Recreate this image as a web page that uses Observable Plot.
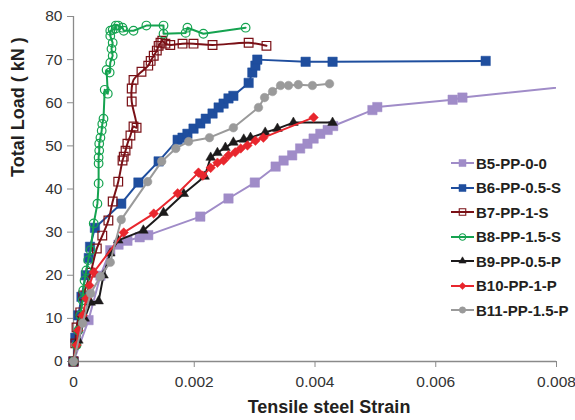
<!DOCTYPE html>
<html><head><meta charset="utf-8">
<script src="https://cdn.jsdelivr.net/npm/d3@7"></script>
<script src="https://cdn.jsdelivr.net/npm/@observablehq/plot@0.6"></script>
<style>
body{margin:0;background:#fff;}
#wrap{position:relative;width:575px;height:420px;font-family:"Liberation Sans",Arial,sans-serif;}
#legend{position:absolute;left:451px;top:151px;}
.item{height:24.5px;display:flex;align-items:center;font-weight:bold;font-size:15px;color:#231f20;white-space:nowrap;}
.item svg{margin-right:2px;}
</style></head><body><div id="wrap"><div id="legend"></div></div>
<script>
// ---- data (strain, load in kN) ----
const b5Strain = [0,0.000249,0.000446,0.000609,0.000746,0.000893,0.001096,0.001238,0.0021,0.002567,0.003003,0.003348,0.00348,0.003622,0.003754,0.003875,0.003977,0.004088,0.00421,0.004301,0.004951,0.005032,0.00628,0.006442,0.0095];
const b5Load   = [0,9.6,19.9,25.8,27.1,28.0,28.8,29.3,33.6,37.8,41.5,45.2,46.6,47.8,49.4,50.5,51.7,52.8,53.7,54.6,58.3,59.0,60.7,61.2,65.7];

const b6Strain = [0,0.00003,0.00008,0.000132,0.000203,0.000254,0.000274,0.000355,0.000791,0.001075,0.00141,0.001725,0.001806,0.001887,0.001988,0.0021,0.002191,0.002303,0.002404,0.002486,0.002567,0.002648,0.002901,0.002962,0.003013,0.003044,0.003845,0.004291,0.006827];
const b6Load   = [0,5.5,10.7,15,20,24,26.6,31,36.6,41.5,46.4,51.4,51.9,52.8,54.0,55.2,56.3,57.5,58.9,59.8,61.0,61.6,64.6,67.0,68.6,70.0,69.5,69.5,69.7];

const b7Strain = [0,0.00003,0.00005,0.000112,0.000162,0.000284,0.000386,0.000477,0.000578,0.000649,0.000741,0.000812,0.000832,0.000862,0.000893,0.000943,0.000994,0.001045,0.000964,0.000964,0.000994,0.001126,0.001238,0.001278,0.001329,0.00138,0.00141,0.001441,0.001471,0.001522,0.001603,0.001806,0.001988,0.002303,0.002901,0.003196];
const b7Load   = [0,4.2,7.9,11.4,15.3,20.6,26.2,29.2,32.7,37.1,41.7,46.6,47.5,48.9,50.5,52.4,54.5,54.2,60.3,63.3,65.3,67.2,68.6,69.7,70.9,72.1,73.2,73.9,74.4,73.7,73.4,73.7,73.7,73.4,73.9,73.2];

const b8Strain = [0,0.00005,0.00008,0.000112,0.000152,0.000162,0.000183,0.000213,0.000243,0.000284,0.000335,0.000396,0.000416,0.000416,0.000416,0.000426,0.000426,0.000446,0.000467,0.000477,0.000497,0.000517,0.000568,0.000548,0.000599,0.000609,0.000649,0.000629,0.000649,0.000609,0.000609,0.000649,0.0007,0.0007,0.000741,0.000812,0.000832,0.000994,0.001207,0.001491,0.001491,0.001857,0.001887,0.002151,0.002851];
const b8Load   = [0,3.8,7.2,10.7,14.2,16.5,18.8,21.1,23.5,25.8,32.0,36.6,41.3,45.9,47.3,48.9,50.5,51.9,53.5,55.1,56.3,63.0,62.1,67.6,67.0,69.3,70.9,72.5,73.9,75.5,76.7,76.9,77.2,77.9,77.9,77.4,76.7,76.7,77.9,77.9,76.0,76.2,77.4,76.0,77.4];

const b9Strain = [0,0.00008,0.000183,0.000284,0.000416,0.000497,0.000609,0.000741,0.001157,0.001491,0.001826,0.002171,0.002272,0.002384,0.002516,0.002648,0.00282,0.002932,0.003175,0.003378,0.003642,0.004291];
const b9Load   = [0,4.9,10.0,13.7,14.0,20.0,25.1,28.1,30.4,34.5,38.9,42.9,47.3,48.4,49.6,50.8,51.5,51.9,53.1,54.0,55.4,55.4];

const b10Strain = [0,0.00005,0.00008,0.000152,0.000213,0.000264,0.000335,0.000832,0.001329,0.001725,0.00207,0.002141,0.002272,0.002384,0.002486,0.002567,0.002678,0.00277,0.002881,0.003013,0.003145,0.003977];
const b10Load   = [0,3.8,7.2,10.7,14.6,17.6,20.7,29.9,34.3,39.0,43.8,43.1,44.9,46.1,46.6,47.8,48.5,49.4,50.1,51.2,51.9,56.6];

const b11Strain = [0,0.000152,0.000284,0.000446,0.000609,0.000791,0.001228,0.001461,0.001694,0.001907,0.002252,0.002648,0.003064,0.003165,0.003297,0.003429,0.003561,0.003723,0.003957,0.004241];
const b11Load   = [0,8.9,15.8,19.7,23.0,32.9,41.7,46.4,49.4,51.0,51.9,54.2,58.9,61.2,62.6,64.0,64.0,64.2,64.0,64.4];

const seriesNames = ["B5-PP-0-0","B6-PP-0.5-S","B7-PP-1-S","B8-PP-1.5-S","B9-PP-0.5-P","B10-PP-1-P","B11-PP-1.5-P"];
const xTicks = [0,0.002,0.004,0.006,0.008];
const yTicks = [0,10,20,30,40,50,60,70,80];

// ---- styles ----
const styles = [
  {strain:b5Strain, load:b5Load, color:"#a08cc8", symbol:"square", r:5.3, fill:true, curve:"linear"},
  {strain:b6Strain, load:b6Load, color:"#1f4e9e", symbol:"square", r:5.3, fill:true, curve:"linear"},
  {strain:b7Strain, load:b7Load, color:"#7a1016", symbol:"square", r:4.9, fill:false, curve:"catmull-rom"},
  {strain:b8Strain, load:b8Load, color:"#15a350", symbol:"circle", r:4.3, fill:false, curve:"linear"},
  {strain:b9Strain, load:b9Load, color:"#1c1a1b", symbol:"triangle", r:3.6, fill:true, curve:"linear"},
  {strain:b10Strain, load:b10Load, color:"#e8262d", symbol:"diamond2", r:4.3, fill:true, curve:"linear"},
  {strain:b11Strain, load:b11Load, color:"#9a9a9a", symbol:"circle", r:4.3, fill:true, curve:"linear"}
];

const marks = [
  Plot.ruleY([0], {stroke:"#8a8a8a", strokeWidth:1.3}),
  Plot.ruleX([0], {stroke:"#8a8a8a", strokeWidth:1.3}),
  Plot.axisY({ticks:yTicks, tickSize:6, tickPadding:5, label:null, fontSize:15.5, stroke:"#8a8a8a", fill:"#333"}),
  Plot.axisX({ticks:xTicks, tickSize:6, tickPadding:8, label:null, fontSize:15.5, stroke:"#8a8a8a", fill:"#333",
    tickFormat: d => d === 0 ? "0" : d.toFixed(3)}),
  Plot.text(["Total Load ( kN )"], {frameAnchor:"left", dx:-55, dy:-12, rotate:-90, fontSize:18, fontWeight:"bold", fill:"#231f20"}),
  Plot.text(["Tensile steel Strain"], {frameAnchor:"bottom", dx:14, dy:51, fontSize:18, fontWeight:"bold", fill:"#231f20"})
];

styles.forEach((s, i) => {
  const data = s.strain.map((x, j) => ({x, y: s.load[j], name: seriesNames[i]}));
  marks.push(Plot.line(data, {x:"x", y:"y", stroke:s.color, strokeWidth:2, curve:s.curve, clip:true}));
  marks.push(Plot.dot(data.filter(d => d.x <= 0.008), {x:"x", y:"y", symbol:()=>s.symbol, r:s.r,
    fill: s.fill ? s.color : "none", stroke:s.color, strokeWidth: s.fill ? 0.5 : 1.2}));
});

const chart = Plot.plot({
  width:575, height:420,
  marginLeft:73, marginRight:19, marginTop:16, marginBottom:59,
  x:{domain:[0,0.008]},
  y:{domain:[0,80]},
  symbol:{type:"identity"},
  style:{fontFamily:"'Liberation Sans', Arial, sans-serif", background:"#fff", overflow:"visible"},
  marks
});
document.getElementById("wrap").prepend(chart);

// ---- legend ----
const legend = d3.select("#legend");
styles.forEach((s, i) => {
  const item = legend.append("div").attr("class","item");
  const svg = item.append("svg").attr("width",23).attr("height",12);
  svg.append("line").attr("x1",0).attr("x2",23).attr("y1",6).attr("y2",6).attr("stroke",s.color).attr("stroke-width",2);
  const sym = {square:d3.symbolSquare, circle:d3.symbolCircle, triangle:d3.symbolTriangle, diamond2:d3.symbolDiamond2}[s.symbol];
  svg.append("path").attr("transform","translate(11.5,6)")
    .attr("d", d3.symbol(sym, Math.PI*Math.pow(s.r*0.75,2))())
    .attr("fill", s.fill ? s.color : "none").attr("stroke", s.color).attr("stroke-width", s.fill?0.5:1.1);
  item.append("span").text(seriesNames[i]);
});
</script>
</body></html>
